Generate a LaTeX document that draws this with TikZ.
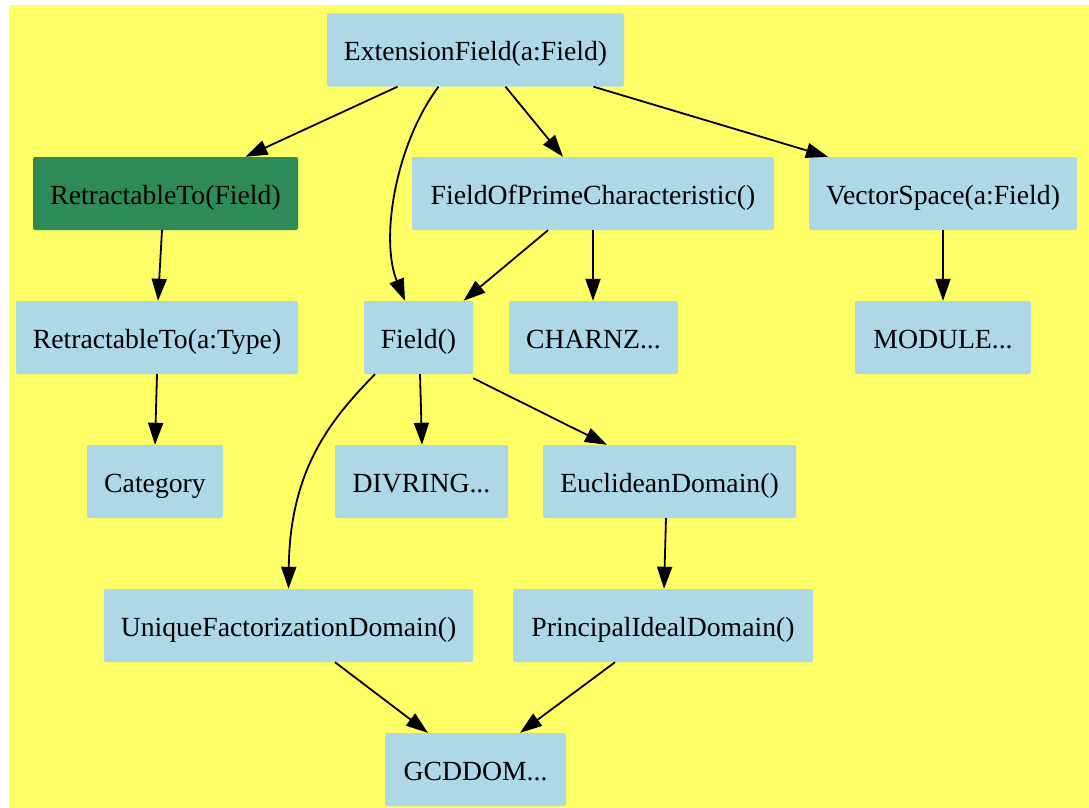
\documentclass[tikz,border=0pt]{standalone}
\usepackage{fontspec}
\setmainfont{LiberationSerif}[Extension=.ttf, UprightFont=*-Regular, BoldFont=*-Bold]
\usetikzlibrary{arrows.meta}
\definecolor{bgyellow}{RGB}{255,255,102}
\definecolor{boxblue}{RGB}{173,216,230}
\definecolor{boxgreen}{RGB}{46,139,87}
\tikzset{
  box/.style={fill=boxblue, draw=none, rounded corners=2pt, inner sep=0pt,
    minimum height=73pt, text height=22pt, text depth=0pt,
    font=\fontsize{27.7}{30}\selectfont, text=black},
  greenbox/.style={box, fill=boxgreen},
  conn/.style={line width=1.8pt, -{Triangle[length=22pt,width=15pt]}}
}
\begin{document}
\begin{tikzpicture}[x=1pt,y=-1pt]
\useasboundingbox (0,0) rectangle (1089,808);
\fill[bgyellow] (9,5) rectangle (1089,808);
\node[box, minimum width=297pt] (ext) at (475.5,50) {ExtensionField(a:Field)};
\node[greenbox, minimum width=265pt] (rtf) at (165.5,193.5) {RetractableTo(Field)};
\node[box, minimum width=362pt] (fpc) at (593,193.5) {FieldOfPrimeCharacteristic()};
\node[box, minimum width=268pt] (vs) at (943,193.5) {VectorSpace(a:Field)};
\node[box, minimum width=282pt] (rta) at (157,337.5) {RetractableTo(a:Type)};
\node[box, minimum width=109pt] (fld) at (418.5,337.5) {Field()};
\node[box, minimum width=169pt] (chz) at (593.5,337.5) {CHARNZ...};
\node[box, minimum width=176pt] (mod) at (943,337.5) {MODULE...};
\node[box, minimum width=136pt] (cat) at (155,481.5) {Category};
\node[box, minimum width=173pt] (div) at (421.5,481.5) {DIVRING...};
\node[box, minimum width=253pt] (euc) at (669.5,481.5) {EuclideanDomain()};
\node[box, minimum width=369pt] (ufd) at (288.5,625.5) {UniqueFactorizationDomain()};
\node[box, minimum width=300pt] (pid) at (663,625.5) {PrincipalIdealDomain()};
\node[box, minimum width=181pt] (gcd) at (475.5,769.5) {GCDDOM...};

\draw[conn] ([xshift=-78pt]ext.south) -- ([xshift=80pt]rtf.north);
\draw[conn] ([xshift=-37pt]ext.south) .. controls (395,145) and (380,240) .. ([xshift=-13.5pt]fld.north);
\draw[conn] ([xshift=30pt]ext.south) -- ([xshift=-30pt]fpc.north);
\draw[conn] ([xshift=118pt]ext.south) -- ([xshift=-115pt]vs.north);
\draw[conn] ([xshift=-3.5pt]rtf.south) -- ([xshift=1pt]rta.north);
\draw[conn] ([xshift=-45pt]fpc.south) -- ([xshift=45pt]fld.north);
\draw[conn] (fpc.south) -- (fpc.south |- chz.north);
\draw[conn] (vs.south) -- (mod.north);
\draw[conn] (rta.south) -- (cat.north);
\draw[conn] ([xshift=-43.5pt]fld.south) .. controls (330,420) and (290,470) .. (ufd.north);
\draw[conn] ([xshift=1.5pt]fld.south) -- ([xshift=0.5pt]div.north);
\draw[conn] ([yshift=-4pt]fld.south east) -- ([xshift=-62.5pt]euc.north);
\draw[conn] ([xshift=-3.5pt]euc.south) -- ([xshift=1pt]pid.north);
\draw[conn] ([xshift=46.5pt]ufd.south) -- ([xshift=-47.5pt]gcd.north);
\draw[conn] ([xshift=-48pt]pid.south) -- ([xshift=44.5pt]gcd.north);
\end{tikzpicture}
\end{document}
